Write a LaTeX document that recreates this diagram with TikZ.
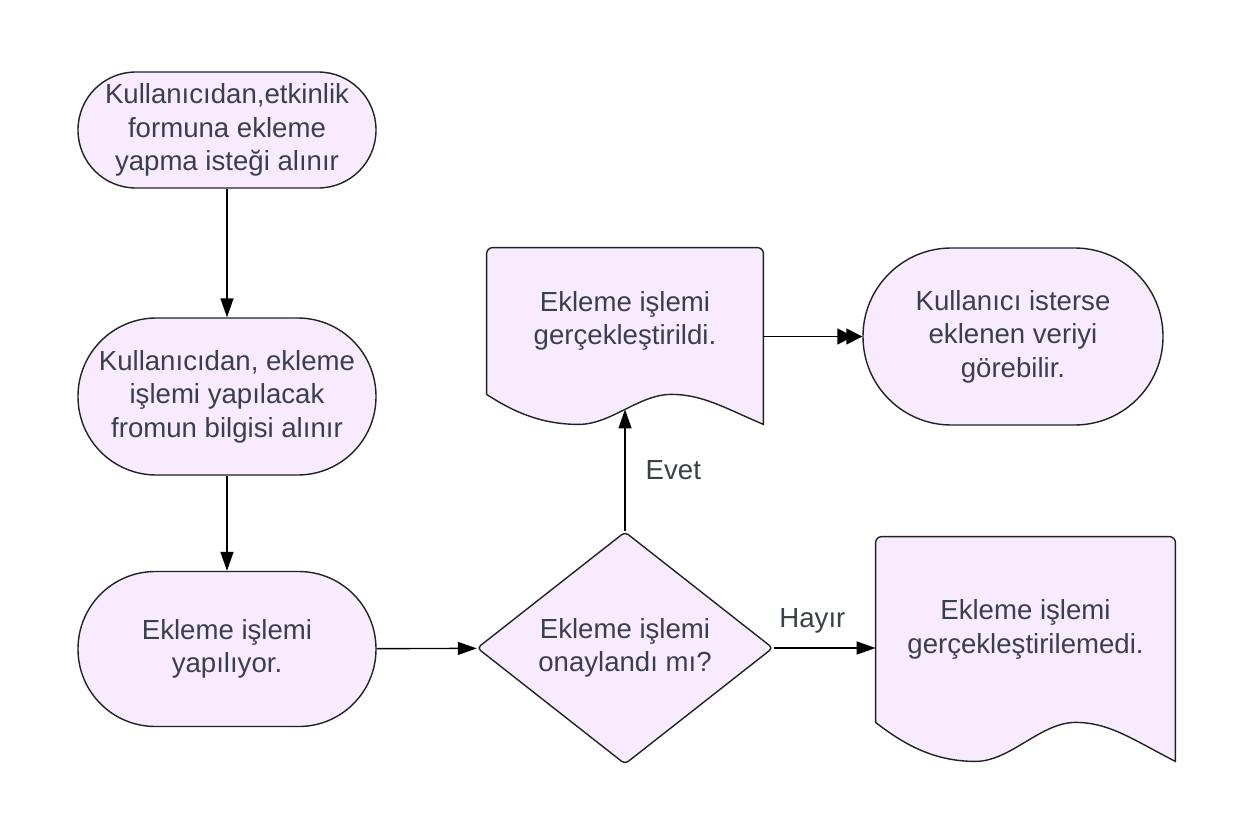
\documentclass[tikz,border=0pt]{standalone}
\usepackage{fontspec}
\setmainfont{Liberation Sans}
\usetikzlibrary{shapes.geometric,arrows.meta,positioning,calc,backgrounds}

\definecolor{boxfill}{RGB}{249,235,255}
\definecolor{boxtext}{RGB}{58,64,73}
\definecolor{boxline}{RGB}{34,34,34}

\tikzset{
  box/.style={draw=boxline, fill=boxfill, line width=0.7pt},
  txt/.style={text=boxtext, font=\fontsize{13.8pt}{16.7pt}\selectfont, align=center, inner sep=2pt},
  pill/.style={box, txt, rectangle, minimum width=149pt, minimum height=#1, rounded corners={#1/2-0.1pt}},
  decide/.style={box, txt, diamond, minimum width=148pt, minimum height=110pt, inner sep=0pt, rounded corners=2pt},
  doctext/.style={txt, minimum width=#1, inner sep=0pt},
  flow/.style={draw=black, line width=0.7pt, -{Triangle[length=9.5pt,width=6.5pt]}},
  dblflow/.style={flow, -{Triangle[length=8pt,width=8pt,sep=-3.5pt]Triangle[length=8pt,width=8pt]}},
  lbl/.style={txt, inner sep=0pt}
}

% document shape behind a text node: #1 node, #2 wave height
\newcommand{\docshape}[2]{%
  \begin{scope}[on background layer]
    \draw[box] let \p1=(#1.south west), \p2=(#1.north east), \n1={\x2-\x1} in
      (\p1) -- ([yshift=-3pt]#1.north west) arc[start angle=180, end angle=90, radius=3pt]
      -- ([xshift=-3pt]#1.north east) arc[start angle=90, end angle=0, radius=3pt]
      -- ({\x2},{\y1-#2})
      .. controls ({\x2-0.14*\n1},{\y1-0.45*#2}) and ({\x1+0.78*\n1},{\y1}) .. ({\x1+0.667*\n1},{\y1})
      .. controls ({\x1+0.55*\n1},{\y1}) and ({\x1+0.45*\n1},{\y1-#2}) .. ({\x1+0.333*\n1},{\y1-#2})
      .. controls ({\x1+0.2*\n1},{\y1-#2}) and ({\x1+0.1*\n1},{\y1-0.6*#2}) .. (\p1) -- cycle;
  \end{scope}}

\begin{document}
\begin{tikzpicture}[x=0.5pt, y=-0.5pt]
  \useasboundingbox (0,0) rectangle (1252,835);

  % --- left column ---
  \node[pill=58pt] (req) at (227,130) {Kullanıcıdan,etkinlik\\formuna ekleme\\yapma isteği alınır};
  \node[pill=78.5pt] (info) at (227,396.5) {Kullanıcıdan, ekleme\\işlemi yapılacak\\fromun bilgisi alınır};
  \node[pill=77.5pt] (proc) at (227,649) {Ekleme işlemi\\yapılıyor.};

  % --- decision ---
  \node[decide] (check) at (625,648) {Ekleme işlemi\\onaylandı mı?};

  % --- results ---
  \node[doctext=138pt, minimum height=73pt] (done) at (625,321) {Ekleme işlemi\\gerçekleştirildi.};
  \docshape{done}{15pt}
  \node[pill=88.5pt, minimum width=150pt] (show) at (1013,336.5) {Kullanıcı isterse\\eklenen veriyi\\görebilir.};
  \node[doctext=149.5pt, minimum height=92.5pt] (fail) at (1025.5,629.5) {Ekleme işlemi\\gerçekleştirilemedi.};
  \docshape{fail}{19.5pt}

  % connectors
  \draw[flow] (req) -- (info);
  \draw[flow] (info) -- (proc);
  \draw[flow] (proc) -- (check);
  \draw[flow] (check) -- ([yshift=-7.5pt]done.south)
    node[lbl, midway, right=10pt] {Evet};
  \draw[flow] (check) -- (check -| fail.west)
    node[lbl, pos=0.38, above=7pt] {Hayır};
  \draw[dblflow] (done.east |- show) -- (show);
\end{tikzpicture}
\end{document}
